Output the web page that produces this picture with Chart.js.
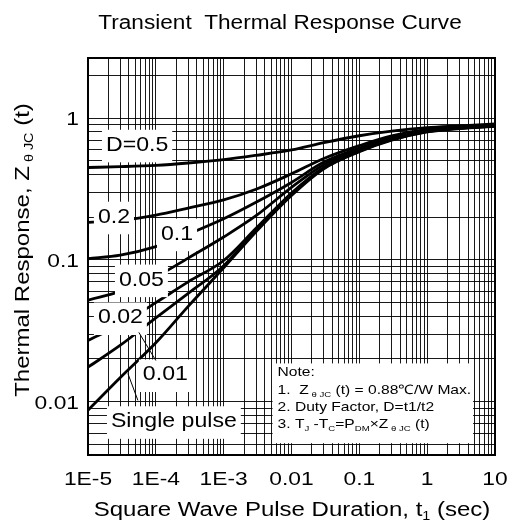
<!DOCTYPE html>
<html><head><meta charset="utf-8">
<script src="https://cdn.jsdelivr.net/npm/chart.js@4.4.0/dist/chart.umd.min.js"></script>
<style>html,body{margin:0;padding:0;background:#fff;}#wrap{width:507px;height:523px;position:relative;}</style>
</head><body><div id="wrap"><canvas id="c"></canvas></div>
<script>
// ---- data ----
const pulseTimes = [1e-5, 3e-5, 1e-4, 3e-4, 1e-3, 3e-3, 1e-2, 3e-2, 0.1, 0.3, 1, 3, 10];
const zSingle = [0.0087, 0.0148, 0.026, 0.047, 0.088, 0.158, 0.285, 0.44, 0.58, 0.70, 0.80, 0.845, 0.875];
const zD001  = [0.0175, 0.025, 0.039, 0.058, 0.091, 0.162, 0.29, 0.445, 0.585, 0.705, 0.805, 0.85, 0.88];
const zD002  = [0.027, 0.035, 0.05, 0.07, 0.099, 0.167, 0.297, 0.45, 0.59, 0.71, 0.81, 0.852, 0.885];
const zD005  = [0.052, 0.06, 0.076, 0.103, 0.145, 0.205, 0.325, 0.47, 0.60, 0.72, 0.815, 0.855, 0.89];
const zD01   = [0.102, 0.108, 0.124, 0.152, 0.195, 0.255, 0.352, 0.49, 0.615, 0.73, 0.82, 0.86, 0.895];
const zD02   = [0.184, 0.19, 0.207, 0.232, 0.265, 0.315, 0.405, 0.52, 0.64, 0.75, 0.83, 0.865, 0.90];
const zD05   = [0.449, 0.455, 0.465, 0.483, 0.51, 0.547, 0.597, 0.672, 0.752, 0.81, 0.857, 0.882, 0.91];
const seriesNames = ['Single pulse', '0.01', '0.02', '0.05', '0.1', '0.2', 'D=0.5'];
const xTickValues = [1e-5, 1e-4, 1e-3, 1e-2, 0.1, 1, 10];
const xTickLabels = ['1E-5', '1E-4', '1E-3', '0.01', '0.1', '1', '10'];
const yTickValues = [0.01, 0.1, 1];
const yTickLabels = ['0.01', '0.1', '1'];
const xMin = 1e-5, xMax = 10, yMin = 0.0042, yMax = 2.66;

// ---- annotations (anchored in data coordinates) ----
const curveLabels = [
  {text: 'D=0.5', t: 1.84e-5, z: 0.589},
  {text: '0.2', t: 1.40e-5, z: 0.183},
  {text: '0.1', t: 1.19e-4, z: 0.139},
  {text: '0.05', t: 2.86e-5, z: 0.0659},
  {text: '0.02', t: 1.40e-5, z: 0.0356},
  {text: '0.01', t: 6.44e-5, z: 0.0141},
  {text: 'Single pulse', t: 2.18e-5, z: 0.00659}
];
const leaders = [
  [5.62e-5, 0.0308, 1.0e-4, 0.0195],
  [3.87e-5, 0.0158, 5.44e-5, 0.0102]
];
const noteBox = {t1: 5.26e-3, z1: 0.0186, t2: 4.75, z2: 0.00509};

const FONT = '"Liberation Sans", Arial, Helvetica, sans-serif';
function segs(ctx, parts, sx) {
  let w = 0;
  parts.forEach(p => { ctx.font = p[1] + 'px ' + FONT; w += ctx.measureText(p[0]).width * sx; });
  return w;
}
function drawRich(ctx, parts, x, y, align, sx) {
  const w = segs(ctx, parts, sx);
  let x0 = align === 'center' ? x - w / 2 : (align === 'right' ? x - w : x);
  parts.forEach(p => {
    ctx.font = p[1] + 'px ' + FONT;
    const pw = ctx.measureText(p[0]).width * sx;
    ctx.save();
    ctx.translate(x0, y + (p[2] || 0));
    ctx.scale(sx, 1);
    ctx.textAlign = 'left';
    ctx.textBaseline = 'alphabetic';
    ctx.fillText(p[0], 0, 0);
    ctx.restore();
    x0 += pw;
  });
  return w;
}

function gridValues(min, max) {
  const out = [];
  for (let e = Math.floor(Math.log10(min)); e <= Math.ceil(Math.log10(max)); e++) {
    for (let m = 1; m <= 9; m++) {
      const v = parseFloat((m * Math.pow(10, e)).toPrecision(6));
      if (v >= min * 0.9999 && v <= max * 1.0001) out.push(v);
    }
  }
  return out;
}

const deco = {
  id: 'deco',
  afterDraw(chart) {
    const ctx = chart.ctx, xs = chart.scales.x, ys = chart.scales.y, a = chart.chartArea;
    ctx.save();
    ctx.fillStyle = '#000';
    // curve labels with white backing
    const LS = 21, LSX = 1.1;
    curveLabels.forEach(l => {
      const x = xs.getPixelForValue(l.t), y = ys.getPixelForValue(l.z);
      ctx.font = LS + 'px ' + FONT;
      const w = ctx.measureText(l.text).width * LSX;
      ctx.fillStyle = '#fff';
      ctx.fillRect(x - 4, y - LS, w + 8, LS * 1.55);
      ctx.fillStyle = '#000';
      drawRich(ctx, [[l.text, LS, 0]], x, y, 'left', LSX);
    });
    // leader lines
    ctx.strokeStyle = '#000'; ctx.lineWidth = 1;
    leaders.forEach(s => {
      ctx.beginPath();
      ctx.moveTo(xs.getPixelForValue(s[0]), ys.getPixelForValue(s[1]));
      ctx.lineTo(xs.getPixelForValue(s[2]), ys.getPixelForValue(s[3]));
      ctx.stroke();
    });
    // note box
    const nx1 = xs.getPixelForValue(noteBox.t1), ny1 = ys.getPixelForValue(noteBox.z1);
    const nx2 = xs.getPixelForValue(noteBox.t2), ny2 = ys.getPixelForValue(noteBox.z2);
    ctx.fillStyle = '#fff';
    ctx.fillRect(nx1, ny1, nx2 - nx1, ny2 - ny1);
    ctx.fillStyle = '#000';
    const NS = 13, NSX = 1.2, nl = nx1 + 5, nb = ny1 + 13, lh = 17.3;
    drawRich(ctx, [['Note:', NS, 0]], nl, nb, 'left', NSX);
    drawRich(ctx, [['1.  Z', NS, 0], [' \u03b8 JC', 8, 3], [' (t) = 0.88\u2103/W Max.', NS, 0]], nl, nb + lh, 'left', NSX);
    drawRich(ctx, [['2. Duty Factor, D=t1/t2', NS, 0]], nl, nb + 2 * lh, 'left', NSX);
    drawRich(ctx, [['3. T', NS, 0], ['J', 8, 3], [' -T', NS, 0], ['C', 8, 3], ['=P', NS, 0], ['DM', 8, 3], ['\u00d7Z', NS, 0], [' \u03b8 JC', 8, 3], [' (t)', NS, 0]], nl, nb + 3 * lh, 'left', NSX);
    // plot border
    ctx.strokeStyle = '#000'; ctx.lineWidth = 2;
    ctx.strokeRect(a.left, a.top, a.right - a.left, a.bottom - a.top);
    // tick labels
    const TS = 19, TSX = 1.2;
    xTickValues.forEach((v, i) => {
      drawRich(ctx, [[xTickLabels[i], TS, 0]], xs.getPixelForValue(v), a.bottom + 30, 'center', TSX);
    });
    yTickValues.forEach((v, i) => {
      drawRich(ctx, [[yTickLabels[i], TS, 0]], a.left - 9, ys.getPixelForValue(v) + 7, 'right', TSX);
    });
    // titles
    drawRich(ctx, [['Transient  Thermal Response Curve', 20, 0]], 280, 29, 'center', 1.13);
    drawRich(ctx, [['Square Wave Pulse Duration, t', 20, 0], ['1', 12, 4], [' (sec)', 20, 0]], 292, 516, 'center', 1.2);
    ctx.save();
    ctx.translate(29, 250);
    ctx.rotate(-Math.PI / 2);
    drawRich(ctx, [['Thermal Response, Z', 20, 0], [' \u03b8 JC', 12, 4], [' (t)', 20, 0]], 0, 0, 'center', 1.2);
    ctx.restore();
    ctx.restore();
  }
};

const seriesValues = [zSingle, zD001, zD002, zD005, zD01, zD02, zD05];
const datasets = seriesValues.map((arr, k) => ({
  label: seriesNames[k],
  data: pulseTimes.map((t, i) => ({x: t, y: arr[i]})),
  borderColor: '#000',
  borderWidth: 2.8,
  pointRadius: 0,
  fill: false,
  cubicInterpolationMode: 'monotone'
}));

const gridOpts = {color: 'rgba(0,0,0,0.9)', lineWidth: 1, drawTicks: false};
new Chart(document.getElementById('c'), {
  type: 'line',
  data: {datasets},
  options: {
    animation: false,
    responsive: true,
    maintainAspectRatio: false,
    layout: {padding: {top: 58, right: 12, left: 0, bottom: 0}},
    plugins: {legend: {display: false}, tooltip: {enabled: false}, title: {display: false}},
    scales: {
      x: {
        type: 'logarithmic', min: xMin, max: xMax,
        grid: gridOpts, border: {display: false},
        ticks: {display: false, autoSkip: false},
        afterBuildTicks: s => { s.ticks = gridValues(xMin, xMax).map(v => ({value: v})); },
        afterFit: s => { s.height = 68; }
      },
      y: {
        type: 'logarithmic', min: yMin, max: yMax,
        grid: gridOpts, border: {display: false},
        ticks: {display: false, autoSkip: false},
        afterBuildTicks: s => { s.ticks = gridValues(yMin, yMax).map(v => ({value: v})); },
        afterFit: s => { s.width = 88; }
      }
    }
  },
  plugins: [deco]
});
</script></body></html>
